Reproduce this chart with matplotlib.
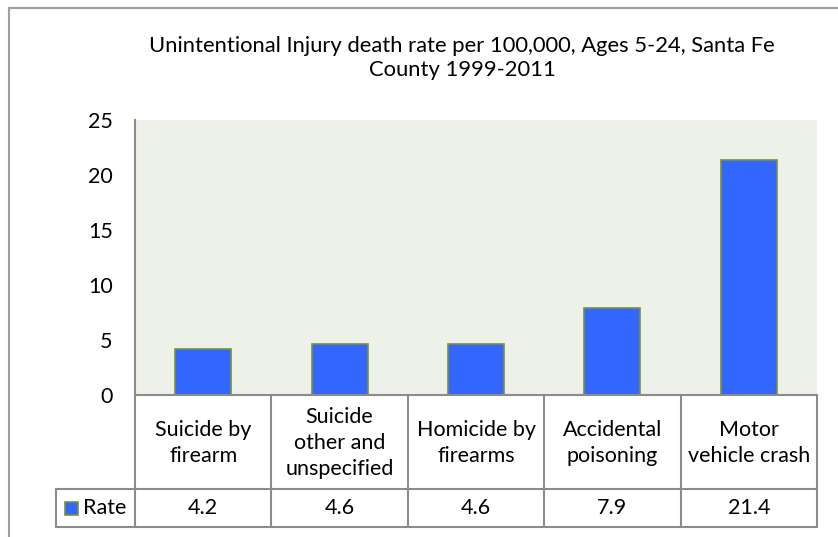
import numpy as np
import matplotlib.pyplot as plt
from matplotlib.patches import Rectangle

plt.rcParams['font.family'] = ['Lato', 'DejaVu Sans']

# Injury death rates per 100,000, ages 5-24
categories = ['Suicide by\nfirearm', 'Suicide\nother and\nunspecified', 'Homicide by\nfirearms',
              'Accidental\npoisoning', 'Motor\nvehicle crash']
rates = [4.2, 4.6, 4.6, 7.9, 21.4]
yticks = [0, 5, 10, 15, 20, 25]
series_name = 'Rate'
title = 'Unintentional Injury death rate per 100,000, Ages 5-24, Santa Fe\nCounty 1999-2011'

W, H = 838, 537
fig = plt.figure(figsize=(W / 100, H / 100), dpi=100)
fig.patch.set_facecolor('white')

def fx(px):
    return px / W

def fy(py):
    return 1 - py / H

bar_col = '#3366FF'
edge_col = '#76923C'
grid_col = '#8C8C8C'
fs = 15.5

# outer chart border
fig.add_artist(plt.Line2D([fx(9), fx(9)], [fy(8), 0], color='#A0A0A0', lw=1.5))
fig.add_artist(plt.Line2D([fx(9), 1], [fy(8), fy(8)], color='#A0A0A0', lw=1.5))

fig.text(fx(462), fy(58), title, ha='center', va='center', fontsize=15.8, linespacing=1.3)

# plot area
left, right, top, bottom = 135, 817, 120, 395
ax = fig.add_axes([fx(left), fy(bottom), fx(right - left), (bottom - top) / H])
ax.set_facecolor('#EEF1E8')
x = np.arange(len(rates))
ax.bar(x, rates, width=0.41, color=bar_col, edgecolor=edge_col, linewidth=1.2)
ax.set_xlim(-0.5, len(rates) - 0.5)
ax.set_ylim(0, 25)
ax.set_yticks(yticks)
ax.tick_params(axis='y', length=0, pad=16, labelsize=fs)
ax.set_xticks([])
for s in ['top', 'right', 'bottom']:
    ax.spines[s].set_visible(False)
ax.spines['left'].set_color(grid_col)
ax.spines['left'].set_linewidth(1.5)

# data table under the plot
row1, row2 = 489, 527
legend_left = 56
col_w = (right - left) / len(rates)
lw = 1.5
fig.add_artist(plt.Line2D([fx(left), fx(left)], [fy(bottom), fy(row2)], color=grid_col, lw=lw))
fig.add_artist(plt.Line2D([fx(left), fx(right)], [fy(bottom), fy(bottom)], color=grid_col, lw=lw))
fig.add_artist(plt.Line2D([fx(legend_left), fx(right)], [fy(row1), fy(row1)], color=grid_col, lw=lw))
fig.add_artist(plt.Line2D([fx(legend_left), fx(right)], [fy(row2), fy(row2)], color=grid_col, lw=lw))
fig.add_artist(plt.Line2D([fx(legend_left), fx(legend_left)], [fy(row1), fy(row2)], color=grid_col, lw=lw))
for i in range(len(rates)):
    xr = left + col_w * (i + 1)
    fig.add_artist(plt.Line2D([fx(xr), fx(xr)], [fy(bottom), fy(row2)], color=grid_col, lw=lw))
    xc = left + col_w * (i + 0.5)
    fig.text(fx(xc), fy((bottom + row1) / 2 + 1), categories[i], ha='center', va='center',
             fontsize=fs, linespacing=1.4)
    fig.text(fx(xc), fy((row1 + row2) / 2), f'{rates[i]:.1f}', ha='center', va='center',
             fontsize=fs)

# legend key in the table
fig.add_artist(Rectangle((fx(65), fy(515)), fx(13), 13 / H, facecolor=bar_col,
                         edgecolor=edge_col, lw=1.2))
fig.text(fx(83), fy((row1 + row2) / 2), series_name, ha='left', va='center', fontsize=fs)

fig.savefig('out.png', dpi=100)
